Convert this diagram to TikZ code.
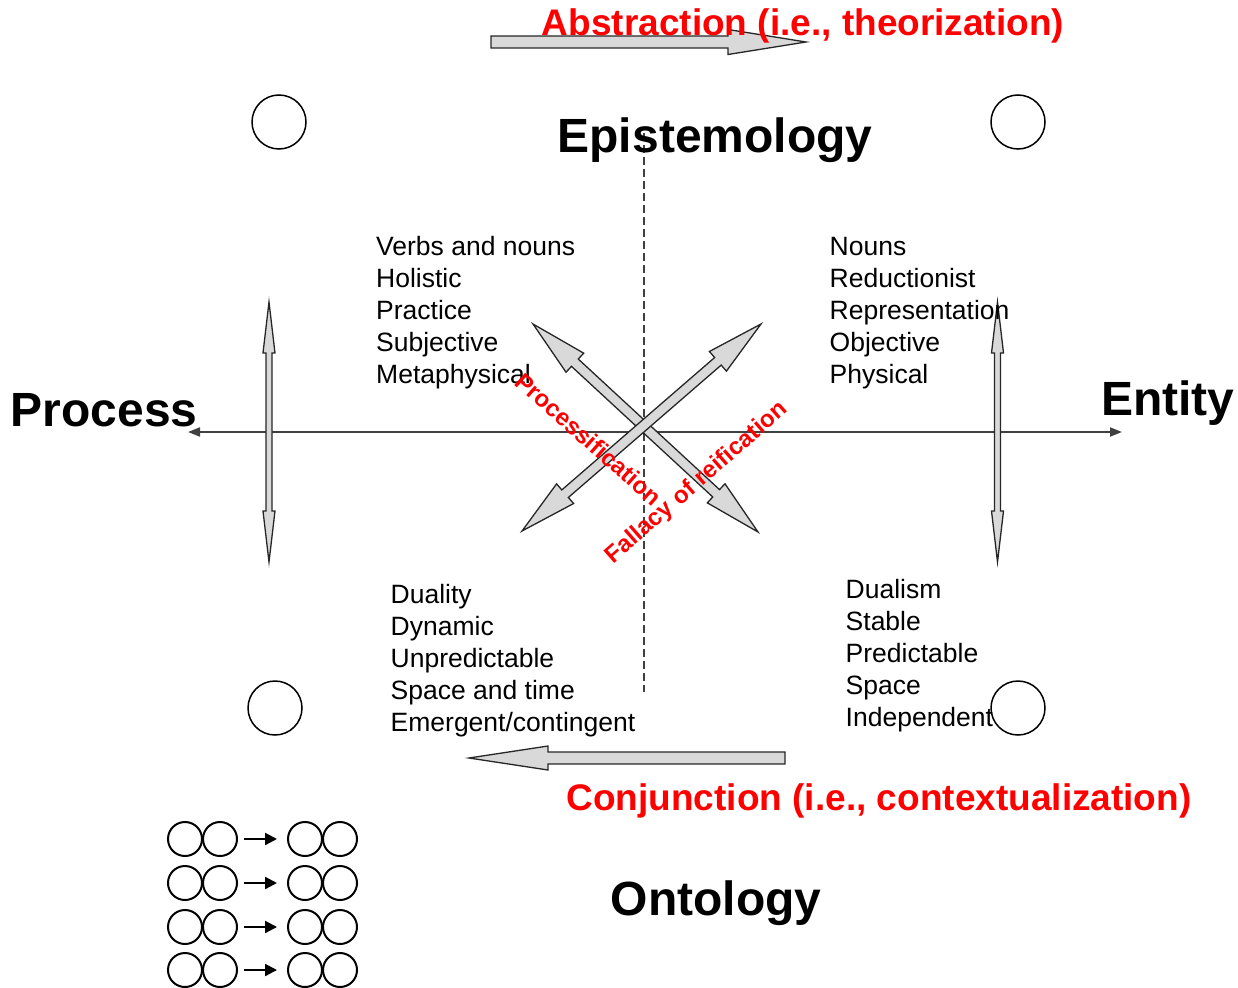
\documentclass[tikz,border=0pt]{standalone}
\usepackage{fontspec}
\setmainfont{Liberation Sans}
\usetikzlibrary{arrows.meta}
\definecolor{arrowfill}{HTML}{D9D9D9}
\definecolor{axisgray}{HTML}{404040}
\definecolor{labelred}{HTML}{FF0000}
% double-headed block arrow: cx, cy, angle, half length, shaft half width, head half width, head length
\newcommand\dblblock[7]{%
  \begin{scope}[shift={(#1,#2)},rotate=#3]
    \draw[blockarrow] (-#4,0) -- (-#4+#7,#6) -- (-#4+#7,#5) -- (#4-#7,#5) -- (#4-#7,#6) -- (#4,0)
      -- (#4-#7,-#6) -- (#4-#7,-#5) -- (-#4+#7,-#5) -- (-#4+#7,-#6) -- cycle;
  \end{scope}}
% single-headed block arrow (tip at +x side)
\newcommand\sglblock[7]{%
  \begin{scope}[shift={(#1,#2)},rotate=#3]
    \draw[blockarrow] (-#4,-#5) -- (#4-#7,-#5) -- (#4-#7,-#6) -- (#4,0) -- (#4-#7,#6) -- (#4-#7,#5)
      -- (-#4,#5) -- cycle;
  \end{scope}}
\begin{document}
\begin{tikzpicture}[x=1pt,y=-1pt,
  blockarrow/.style={draw=black!85, line width=1.3pt, fill=arrowfill, line join=miter},
  axisline/.style={draw=axisgray, line width=2pt},
  dashline/.style={draw=axisgray, line width=1.5pt, dash pattern=on 8pt off 4pt},
  bodytext/.style={font=\fontsize{26.5}{32}\selectfont, inner sep=0pt, align=left, anchor=north west},
  biglabel/.style={font=\fontsize{48}{57}\selectfont\bfseries, inner sep=0pt, anchor=base},
  redlabel/.style={font=\fontsize{37}{44}\selectfont\bfseries, text=labelred, inner sep=0pt, anchor=base},
  rotlabel/.style={font=\fontsize{24}{29}\selectfont\bfseries, text=labelred, inner sep=0pt},
  bigcircle/.style={circle, draw, line width=1.5pt, minimum size=54pt, inner sep=0pt},
  smallcircle/.style={circle, draw, line width=2pt, minimum size=34pt, inner sep=0pt},
  smallarrow/.style={draw, line width=2.2pt, -{Triangle[length=12pt,width=12pt]}, shorten <=6pt, shorten >=10pt}
]
\useasboundingbox (0,0) rectangle (1238,987);

% axes
\coordinate (axL) at (188,432);
\coordinate (axR) at (1122,432);
\draw[axisline, {Triangle[length=12pt,width=9pt]}-{Triangle[length=12pt,width=9pt]}] (axL) -- (axR);
\coordinate (dashT) at (644,133);
\coordinate (dashB) at (644,692);
\draw[dashline] (dashT) -- (dashB);

% vertical double arrows
\dblblock{269}{432}{90}{130}{3}{6}{51}
\dblblock{997.5}{432}{90}{130}{3}{6}{51}

% crossing double arrows
\dblblock{645.5}{428}{-42.75}{153.2}{5}{13}{57}
\dblblock{641.5}{427.5}{40.9}{158.1}{5}{13}{57}

% top and bottom block arrows
\sglblock{648.5}{42}{0}{157.5}{6}{12.5}{78}
\sglblock{627}{758}{180}{158}{6}{12}{79}

% big circles
\node[bigcircle] (cTL) at (279,122) {};
\node[bigcircle] (cTR) at (1018,122) {};
\node[bigcircle] (cBL) at (275,708) {};
\node[bigcircle] (cBR) at (1018,708) {};

% text blocks
\node[bodytext] (tl) at (376,232.6) {\strut Verbs and nouns\\Holistic\\Practice\\Subjective\\Metaphysical};
\node[bodytext] (tr) at (829.5,232.6) {\strut Nouns\\Reductionist\\Representation\\Objective\\Physical};
\node[bodytext] (bl) at (390.5,580.6) {\strut Duality\\Dynamic\\Unpredictable\\Space and time\\Emergent/contingent};
\node[bodytext] (br) at (845.5,575.6) {\strut Dualism\\Stable\\Predictable\\Space\\Independent};

% big labels
\node[biglabel] (epi) at (715,153) {Epistemology};
\node[biglabel, anchor=base west] (proc) at (10.5,426) {Process};
\node[biglabel, anchor=base west] (ent) at (1101,415) {Entity};
\node[biglabel] (onto) at (716,915) {Ontology};

% red labels
\node[redlabel] (abs) at (803,36) {Abstraction (i.e., theorization)};
\node[redlabel] (conj) at (879,810) {Conjunction (i.e., contextualization)};
\node[rotlabel, rotate=-41.5] (procf) at (589,439) {Processification};
\node[rotlabel, rotate=41.2] (fall) at (697,483) {Fallacy of reification};

% small circle grid
\foreach \r/\yy in {1/839,2/883,3/927,4/970}{
  \node[smallcircle] (a\r) at (185,\yy) {};
  \node[smallcircle] (b\r) at (220,\yy) {};
  \node[smallcircle] (c\r) at (305,\yy) {};
  \node[smallcircle] (d\r) at (340,\yy) {};
  \draw[smallarrow] (b\r) -- (c\r);
}
\end{tikzpicture}
\end{document}
